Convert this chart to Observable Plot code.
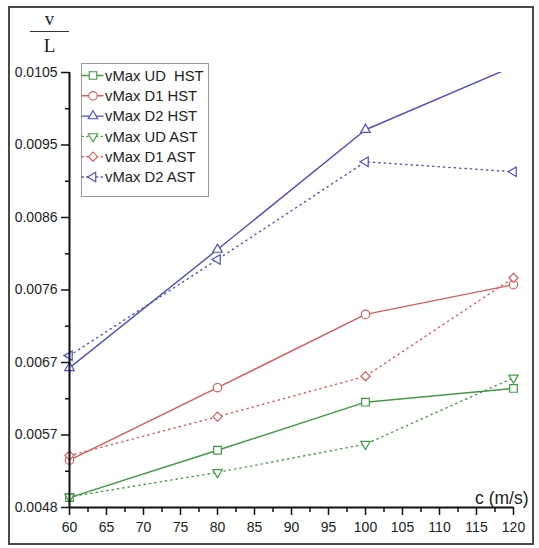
<!DOCTYPE html>
<html>
<head>
<meta charset="utf-8">
<script src="https://cdn.jsdelivr.net/npm/d3@7"></script>
<script src="https://cdn.jsdelivr.net/npm/@observablehq/plot@0.6"></script>
<style>
  body { margin: 0; background: #fff; }
  #wrap { position: relative; width: 539px; height: 548px; overflow: hidden; font-family: "Liberation Sans", Arial, sans-serif; }
  #wrap svg.plot { position: absolute; left: 0; top: 0; }
  #border { position: absolute; left: 8px; top: 6px; right: 5px; bottom: 3px; border: 2px solid #4a4a4a; pointer-events: none; }
  #ylab { position: absolute; left: 30px; top: 9px; width: 39px; font-family: "Liberation Serif", "DejaVu Serif", serif; font-size: 19px; color: #222; text-align: center; line-height: 20px; }
  #ylab .bar { border-top: 1.5px solid #333; margin: 2px 0 4px 0; }
  #legend { position: absolute; left: 81px; top: 63px; }
</style>
</head>
<body>
<div id="wrap">
  <div id="ylab"><div>v</div><div class="bar"></div><div>L</div></div>
</div>
<script>
// ---- data ----
const xValues = [60, 80, 100, 120];
const seriesNames = ["vMax UD  HST", "vMax D1 HST", "vMax D2 HST", "vMax UD AST", "vMax D1 AST", "vMax D2 AST"];
const udHST = [0.00493, 0.00555, 0.00618, 0.00636];
const d1HST = [0.00542, 0.00637, 0.00733, 0.00772];
const d2HST = [0.00663, 0.00818, 0.00975, 0.01058];
const udAST = [0.00494, 0.00526, 0.00563, 0.00650];
const d1AST = [0.00548, 0.00599, 0.00652, 0.00781];
const d2AST = [0.00679, 0.00805, 0.00933, 0.00920];
const yTickValues = [0.0048, 0.00575, 0.0067, 0.00765, 0.0086, 0.00955, 0.0105];
const yTickLabels = ["0.0048", "0.0057", "0.0067", "0.0076", "0.0086", "0.0095", "0.0105"];
const xTickValues = [60, 65, 70, 75, 80, 85, 90, 95, 100, 105, 110, 115, 120];

// ---- styles ----
const seriesValues = [udHST, d1HST, d2HST, udAST, d1AST, d2AST];
const colors = ["#409a40", "#d65a5a", "#4e4ec6", "#409a40", "#d65a5a", "#4e4ec6"];
const symbols = ["square", "circle", "triangle", "triangle", "diamond2", "triangle"];
const rotations = [0, 0, 0, 180, 0, -90];
const radii = [4.3, 4.2, 3.5, 3.5, 4.1, 3.5];
const dashed = [false, false, false, true, true, true];

const yMin = 0.0048, yMax = 0.0105;
const yMinor = d3.range(6).map(i => (yTickValues[i] + yTickValues[i + 1]) / 2);
const xMinor = d3.range(12).map(i => (xTickValues[i] + xTickValues[i + 1]) / 2);

const marks = [];
seriesNames.forEach((name, k) => {
  const rows = xValues.map((x, i) => ({x, v: seriesValues[k][i]}));
  marks.push(Plot.line(rows, {
    x: "x", y: "v", stroke: colors[k], strokeWidth: 1.4, clip: true,
    strokeDasharray: dashed[k] ? "1.2,4.2" : null, strokeLinecap: "round"
  }));
});
seriesNames.forEach((name, k) => {
  const rows = xValues.map((x, i) => ({x, v: seriesValues[k][i]})).filter(d => d.v <= yMax);
  marks.push(Plot.dot(rows, {
    x: "x", y: "v", symbol: symbols[k], r: radii[k], rotate: rotations[k],
    stroke: colors[k], fill: "white", strokeWidth: 1.2
  }));
});

const plot = Plot.plot({
  width: 539, height: 548,
  marginLeft: 69, marginTop: 72, marginRight: 26, marginBottom: 41,
  style: {fontFamily: '"Liberation Sans", Arial, sans-serif', background: "transparent"},
  x: {domain: [60, 120]},
  y: {domain: [yMin, yMax]},
  marks: [
    ...marks,
    Plot.axisY({ticks: yTickValues, tickFormat: (d, i) => yTickLabels[i], tickSize: 8, tickPadding: 4, fontSize: 14, stroke: "#111", strokeWidth: 1.5, color: "#222", label: null}),
    Plot.axisY({ticks: yMinor, tickFormat: () => "", tickSize: 4, stroke: "#111", strokeWidth: 1.5, label: null}),
    Plot.axisX({ticks: xTickValues, tickSize: 8, tickPadding: 7, fontSize: 14, stroke: "#111", strokeWidth: 1.5, color: "#222", label: null}),
    Plot.axisX({ticks: xMinor, tickFormat: () => "", tickSize: 5, stroke: "#111", strokeWidth: 1.5, label: null}),
    Plot.ruleX([60], {stroke: "#111", strokeWidth: 2}),
    Plot.ruleY([yMin], {stroke: "#111", strokeWidth: 2}),
    Plot.text(["c (m/s)"], {frameAnchor: "bottom-right", textAnchor: "end", lineAnchor: "bottom", dx: 15, dy: -4, fontSize: 17.5, fill: "#222"})
  ]
});
plot.classList.add("plot");
const wrap = document.getElementById("wrap");
wrap.appendChild(plot);

// ---- legend ----
const lw = 127, lh = 133, rowY0 = 12.5, rowStep = 20.3;
const leg = d3.create("svg").attr("id", "legend").attr("width", lw + 2).attr("height", lh + 2);
leg.append("rect").attr("x", 0.5).attr("y", 0.5).attr("width", lw).attr("height", lh)
  .attr("fill", "white").attr("stroke", "#999").attr("stroke-width", 1);
seriesNames.forEach((name, k) => {
  const y = rowY0 + k * rowStep;
  leg.append("line").attr("x1", 1).attr("x2", 22).attr("y1", y).attr("y2", y)
    .attr("stroke", colors[k]).attr("stroke-width", 1.4)
    .attr("stroke-dasharray", dashed[k] ? "1.2,3.6" : null).attr("stroke-linecap", "round");
  const symType = {square: d3.symbolSquare, circle: d3.symbolCircle, triangle: d3.symbolTriangle, diamond2: d3.symbolDiamond2}[symbols[k]];
  const r = radii[k];
  leg.append("path").attr("d", d3.symbol(symType, r * r * Math.PI)())
    .attr("transform", `translate(12,${y}) rotate(${rotations[k]})`)
    .attr("fill", "white").attr("stroke", colors[k]).attr("stroke-width", 1.1);
  leg.append("text").attr("x", 24).attr("y", y).attr("dy", "0.35em")
    .attr("font-size", 14.8).attr("fill", "#222")
    .attr("font-family", '"Liberation Sans", Arial, sans-serif')
    .attr("xml:space", "preserve").style("white-space", "pre")
    .text(name);
});
wrap.appendChild(leg.node());

const border = document.createElement("div");
border.id = "border";
wrap.appendChild(border);
</script>
</body>
</html>
